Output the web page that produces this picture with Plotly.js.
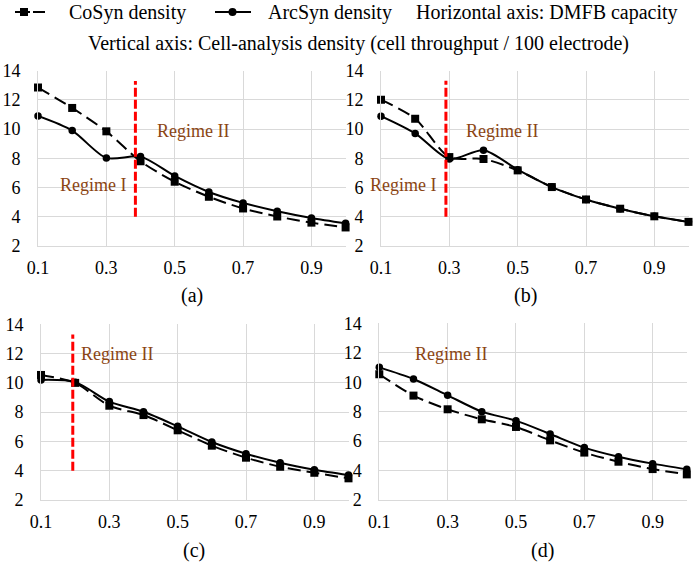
<!DOCTYPE html>
<html>
<head>
<meta charset="utf-8">
<script src="https://cdn.plot.ly/plotly-3.0.1.min.js"></script>
<style>html,body{margin:0;padding:0;background:#fff;}#chart{width:695px;height:563px;}</style>
</head>
<body>
<div id="chart"></div>
<script>
// ---- data ----
const capacity = [0.1, 0.2, 0.3, 0.4, 0.5, 0.6, 0.7, 0.8, 0.9, 1.0];
const xTickVals = [0.1, 0.3, 0.5, 0.7, 0.9];
const xTickText = ["0.1", "0.3", "0.5", "0.7", "0.9"];
const yTickVals = [2, 4, 6, 8, 10, 12, 14];
const yTickText = ["2", "4", "6", "8", "10", "12", "14"];

const coSynA  = [12.85, 11.45, 9.85, 7.8, 6.4, 5.37, 4.57, 4.02, 3.6, 3.27];
const arcSynA = [10.9, 9.9, 8.03, 8.12, 6.8, 5.7, 4.95, 4.38, 3.92, 3.55];
const coSynB  = [12.0, 10.7, 8.08, 7.95, 7.17, 6.03, 5.18, 4.55, 4.03, 3.65];
const arcSynB = [10.88, 9.7, 7.95, 8.55, 7.22, 6.03, 5.18, 4.55, 4.03, 3.65];
const coSynC  = [10.54, 10.0, 8.44, 7.8, 6.76, 5.71, 4.89, 4.27, 3.86, 3.48];
const arcSynC = [10.2, 10.05, 8.72, 8.03, 7.03, 5.96, 5.16, 4.54, 4.07, 3.71];
const coSynD  = [10.54, 9.09, 8.16, 7.48, 6.96, 6.05, 5.22, 4.6, 4.1, 3.74];
const arcSynD = [11.01, 10.22, 9.11, 8.0, 7.39, 6.48, 5.56, 4.94, 4.47, 4.08];

const regimeBoundary = {a: 0.385, b: 0.29, c: 0.193};
const regimeSpan = [4, 13.3];

const panelLabels = ["(a)", "(b)", "(c)", "(d)"];
const legendLabels = ["CoSyn density", "ArcSyn density"];
const headerTexts = ["Horizontal axis: DMFB capacity",
  "Vertical axis: Cell-analysis density (cell throughput / 100 electrode)"];

// ---- layout helpers ----
const W = 695, H = 563;
const px = v => v / W;
const py = v => 1 - v / H;
const FONT = "Liberation Serif";
const BROWN = "#8B4513";

const panels = [
  {co: coSynA, arc: arcSynA, x0: 38, x1: 345.6, yTop: 70.7, yBot: 246, boundary: regimeBoundary.a},
  {co: coSynB, arc: arcSynB, x0: 381, x1: 688.5, yTop: 70.5, yBot: 246, boundary: regimeBoundary.b},
  {co: coSynC, arc: arcSynC, x0: 41, x1: 348.5, yTop: 324.3, yBot: 500, boundary: regimeBoundary.c},
  {co: coSynD, arc: arcSynD, x0: 379.3, x1: 686.8, yTop: 323.3, yBot: 500, boundary: null}
];

const traces = [];
const layout = {
  width: W, height: H,
  margin: {l: 0, r: 0, t: 0, b: 0},
  paper_bgcolor: "#fff", plot_bgcolor: "#fff",
  showlegend: false,
  font: {family: FONT, color: "#000", size: 18},
  annotations: [], shapes: []
};

panels.forEach((p, i) => {
  const n = i === 0 ? "" : String(i + 1);
  const xa = "x" + n, ya = "y" + n;
  traces.push({
    x: capacity, y: p.co, xaxis: xa, yaxis: ya, type: "scatter", mode: "lines+markers",
    name: legendLabels[0], cliponaxis: false,
    line: {color: "#000", width: 2, dash: "13px,6px", shape: "spline", smoothing: 0.8},
    marker: {symbol: "square", size: 8, color: "#000"}
  });
  traces.push({
    x: capacity, y: p.arc, xaxis: xa, yaxis: ya, type: "scatter", mode: "lines+markers",
    name: legendLabels[1], cliponaxis: false,
    line: {color: "#000", width: 2, shape: "spline", smoothing: 0.8},
    marker: {symbol: "circle", size: 7.5, color: "#000"}
  });
  if (p.boundary !== null) {
    traces.push({
      x: [p.boundary, p.boundary], y: regimeSpan, xaxis: xa, yaxis: ya,
      type: "scatter", mode: "lines", cliponaxis: false, hoverinfo: "skip",
      line: {color: "#ff0000", width: 3, dash: "9px,3px"}
    });
  }
  layout["xaxis" + n] = {
    domain: [px(p.x0), px(p.x1)], anchor: ya, range: [0.1, 1.0],
    tickmode: "array", tickvals: xTickVals, ticktext: xTickText,
    showgrid: true, gridcolor: "#d9d9d9", gridwidth: 1, zeroline: false,
    showline: true, linecolor: "#d9d9d9", linewidth: 1,
    ticks: "", ticklabelstandoff: 5, tickfont: {family: FONT, size: 18, color: "#000"},
    fixedrange: true
  };
  layout["yaxis" + n] = {
    domain: [py(p.yBot), py(p.yTop)], anchor: xa, range: [2, 14],
    tickmode: "array", tickvals: yTickVals, ticktext: yTickText,
    showgrid: true, gridcolor: "#d9d9d9", gridwidth: 1, zeroline: false,
    showline: true, linecolor: "#d9d9d9", linewidth: 1,
    ticks: "", ticklabelstandoff: 13, tickfont: {family: FONT, size: 18, color: "#000"},
    fixedrange: true
  };
});

// Regime labels (data coordinates of each panel)
const regimeNotes = [
  {t: "Regime II", x: 0.554, y: 9.87, ax: "x", ay: "y"},
  {t: "Regime I", x: 0.261, y: 6.17, ax: "x", ay: "y"},
  {t: "Regime II", x: 0.454, y: 9.86, ax: "x2", ay: "y2"},
  {t: "Regime I", x: 0.164, y: 6.2, ax: "x2", ay: "y2"},
  {t: "Regime II", x: 0.322, y: 11.97, ax: "x3", ay: "y3"},
  {t: "Regime II", x: 0.31, y: 11.92, ax: "x4", ay: "y4"}
];
regimeNotes.forEach(r => layout.annotations.push({
  text: r.t, x: r.x, y: r.y, xref: r.ax, yref: r.ay, showarrow: false,
  xanchor: "center", yanchor: "middle", font: {family: FONT, size: 18, color: BROWN}
}));

// Panel captions
const capPos = [[192, 295], [525, 295], [194, 550], [542, 550]];
panelLabels.forEach((t, i) => layout.annotations.push({
  text: t, x: px(capPos[i][0]), y: py(capPos[i][1]), xref: "paper", yref: "paper",
  showarrow: false, xanchor: "center", yanchor: "middle", font: {family: FONT, size: 20, color: "#000"}
}));

// Header legend
const legY = 12.5;
const hdrFont = {family: FONT, size: 20, color: "#000"};
layout.annotations.push({text: legendLabels[0], x: px(67), y: py(legY), xref: "paper", yref: "paper",
  showarrow: false, xanchor: "left", yanchor: "middle", font: hdrFont});
layout.annotations.push({text: legendLabels[1], x: px(266), y: py(legY), xref: "paper", yref: "paper",
  showarrow: false, xanchor: "left", yanchor: "middle", font: hdrFont});
layout.annotations.push({text: headerTexts[0], x: px(414), y: py(legY), xref: "paper", yref: "paper",
  showarrow: false, xanchor: "left", yanchor: "middle", font: hdrFont});
layout.annotations.push({text: headerTexts[1], x: px(358), y: py(44), xref: "paper", yref: "paper",
  showarrow: false, xanchor: "center", yanchor: "middle", font: hdrFont});

const symY = 12;
layout.shapes.push(
  {type: "line", xref: "paper", yref: "paper", x0: px(15), x1: px(30), y0: py(symY), y1: py(symY), line: {color: "#000", width: 2}},
  {type: "line", xref: "paper", yref: "paper", x0: px(33), x1: px(45), y0: py(symY), y1: py(symY), line: {color: "#000", width: 2}},
  {type: "rect", xref: "paper", yref: "paper", x0: px(20), x1: px(28), y0: py(symY - 4), y1: py(symY + 4), line: {width: 0}, fillcolor: "#000"},
  {type: "line", xref: "paper", yref: "paper", x0: px(215), x1: px(251), y0: py(symY), y1: py(symY), line: {color: "#000", width: 2}},
  {type: "circle", xref: "paper", yref: "paper", x0: px(228.5), x1: px(236.5), y0: py(symY - 4), y1: py(symY + 4), line: {width: 0}, fillcolor: "#000"}
);

Plotly.newPlot("chart", traces, layout, {staticPlot: true, displayModeBar: false});
</script>
</body>
</html>
